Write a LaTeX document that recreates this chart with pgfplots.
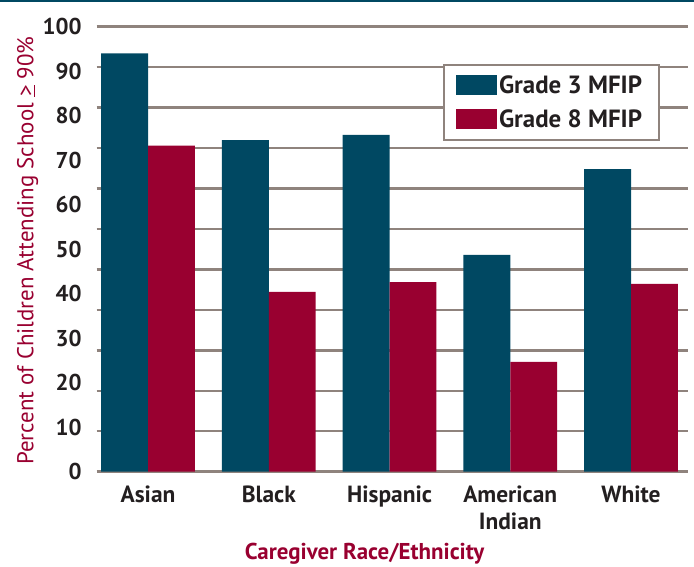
\documentclass[border=0pt]{standalone}
\usepackage{fontspec}
\setmainfont{PT Sans}
\usepackage{pgfplots}
\pgfplotsset{compat=1.18}
\definecolor{tealbar}{RGB}{0,72,98}
\definecolor{crim}{RGB}{153,0,48}
\definecolor{gridc}{RGB}{143,131,125}
\definecolor{txt}{RGB}{35,31,32}
\begin{document}
\begin{tikzpicture}
\useasboundingbox (-96.7bp,-95.3bp) rectangle (597.3bp,471.7bp);
\begin{axis}[
  at={(0,0)}, anchor=south west,
  scale only axis, width=591.3bp, height=445bp,
  xmin=-0.425, xmax=4.472, ymin=0, ymax=100,
  clip=false,
  axis line style={draw=none},
  major tick length=0pt,
  ytick={0,10,...,100},
  /pgf/number format/assume math mode=true,
  yticklabel style={font=\fontsize{23}{23}\selectfont\bfseries, text=txt, inner sep=0pt, xshift=-15bp},
  xtick={0,1,2,3,4},
  xticklabels={Asian,Black,Hispanic,{American\\Indian},White},
  xticklabel style={font=\fontsize{23.5}{27}\selectfont\bfseries, text=txt, align=center, inner sep=0pt, yshift=-14bp, anchor=north},
  extra y ticks={0,9.0909,18.1818,27.2727,36.3636,45.4545,54.5454,63.6364,72.7273,81.8182,90.9091,100},
  extra y tick labels={},
  extra y tick style={ymajorgrids=true, major grid style={draw=gridc, line width=2.5bp}},
  ylabel={Percent of Children Attending School \underline{>} 90\%},
  ylabel style={at={(axis description cs:-0.117,0.497)}, anchor=center, font=\fontsize{23}{23}\selectfont, text=crim},
  xlabel={Caregiver Race/Ethnicity},
  xlabel style={at={(axis description cs:0.453,-0.184)}, anchor=center, font=\fontsize{23}{23}\selectfont\bfseries, text=crim},
  ybar=0pt, bar width=0.389,
  legend cell align=left,
  legend image code/.code={\fill[#1,draw=none] (0bp,-10bp) rectangle (41bp,10bp);},
  legend style={at={(rel axis cs:0.5857,0.916)}, anchor=north west, draw=gridc, line width=2bp, fill=white,
    inner xsep=12bp, inner ysep=8.5bp, row sep=11bp,
    nodes={inner sep=2bp, text=txt},
    font=\fontsize{25}{25}\selectfont\bfseries},
]
\addplot[fill=tealbar, draw=none] coordinates {(0,94.0) (1,74.5) (2,75.7) (3,48.7) (4,68.0)};
\addplot[fill=crim, draw=none] coordinates {(0,73.3) (1,40.4) (2,42.6) (3,24.7) (4,42.2)};
\legend{Grade 3 MFIP\hspace*{3bp}, Grade 8 MFIP\hspace*{3bp}}
\end{axis}
\fill[tealbar] (-96.7bp,469.7bp) rectangle (597.3bp,471.7bp);
\end{tikzpicture}
\end{document}
